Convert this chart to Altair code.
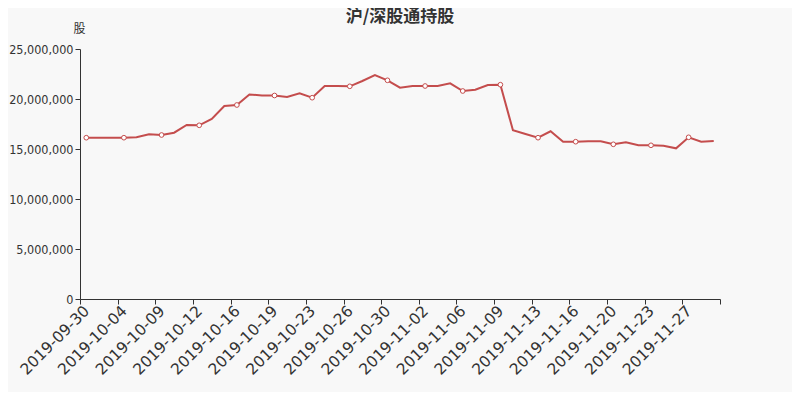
import altair as alt
import pandas as pd

dates = [
    "2019-09-30", "2019-10-02", "2019-10-03", "2019-10-04", "2019-10-05", "2019-10-08",
    "2019-10-09", "2019-10-10", "2019-10-11", "2019-10-12", "2019-10-14", "2019-10-15",
    "2019-10-16", "2019-10-17", "2019-10-18", "2019-10-19", "2019-10-21", "2019-10-22",
    "2019-10-23", "2019-10-24", "2019-10-25", "2019-10-26", "2019-10-28", "2019-10-29",
    "2019-10-30", "2019-10-31", "2019-11-01", "2019-11-02", "2019-11-04", "2019-11-05",
    "2019-11-06", "2019-11-07", "2019-11-08", "2019-11-09", "2019-11-11", "2019-11-12",
    "2019-11-13", "2019-11-14", "2019-11-15", "2019-11-16", "2019-11-18", "2019-11-19",
    "2019-11-20", "2019-11-21", "2019-11-22", "2019-11-23", "2019-11-25", "2019-11-26",
    "2019-11-27", "2019-11-28", "2019-11-29",
]

holdings = [
    16130000, 16130000, 16130000, 16130000, 16170000, 16470000,
    16400000, 16630000, 17400000, 17370000, 18000000, 19300000,
    19400000, 20450000, 20350000, 20350000, 20200000, 20570000,
    20130000, 21300000, 21300000, 21270000, 21800000, 22400000,
    21870000, 21130000, 21300000, 21300000, 21300000, 21570000,
    20800000, 20930000, 21400000, 21430000, 16870000, 16500000,
    16130000, 16770000, 15730000, 15730000, 15770000, 15770000,
    15470000, 15670000, 15370000, 15370000, 15330000, 15070000,
    16170000, 15730000, 15800000,
]

y_ticks = [0, 5000000, 10000000, 15000000, 20000000, 25000000]

n = len(dates)
df = pd.DataFrame({"idx": list(range(n)), "date": dates, "shares": holdings})
df["marker"] = df["idx"] % 3 == 0

x_tick_values = [i - 0.5 for i in range(0, n - 2, 3)] + [n - 0.5]
label_array = "[" + ",".join(f"'{d}'" for d in dates[0:n - 2:3]) + "]"
label_expr = f"{label_array}[round((datum.value + 0.5) / 3)] || ''"

LINE = "#c44d4d"
TXT = "#333333"
FONT = "DejaVu Sans, Noto Sans CJK SC"
YFONT = "DejaVu Sans Condensed, Liberation Sans"

x_enc = alt.X(
    "idx:Q",
    scale=alt.Scale(domain=[-0.5, n - 0.5], nice=False, zero=False),
    axis=alt.Axis(
        values=x_tick_values,
        labelExpr=label_expr,
        labelAngle=-45,
        labelAlign="right",
        labelBaseline="middle",
        labelOffset=6.3,
        labelPadding=4,
        labelFlush=False,
        labelOverlap=False,
        labelFontSize=15.5,
        labelColor=TXT,
        labelFont=FONT,
        title=None,
        grid=False,
        tickSize=5,
        tickColor=TXT,
        domainColor=TXT,
    ),
)

y_enc = alt.Y(
    "shares:Q",
    scale=alt.Scale(domain=[0, 25000000], nice=False),
    axis=alt.Axis(
        values=y_ticks,
        format=",d",
        title="股",
        titleAngle=0,
        titleAlign="center",
        titleBaseline="middle",
        titleX=-1,
        titleY=-21,
        titleFontSize=12,
        titleFontWeight="normal",
        titleColor=TXT,
        titleFont=FONT,
        labelFontSize=12.5,
        labelColor=TXT,
        labelFont=YFONT,
        labelPadding=2,
        labelOverlap=False,
        grid=False,
        tickSize=5,
        tickColor=TXT,
        domainColor=TXT,
    ),
)

base = alt.Chart(df).encode(x=x_enc, y=y_enc)
line = base.mark_line(color=LINE, strokeWidth=2)
points = (
    base.transform_filter("datum.marker")
    .mark_point(shape="circle", filled=True, fill="white", stroke=LINE, strokeWidth=1, size=22, opacity=1)
)

chart = (
    alt.layer(line, points)
    .properties(
        width=640,
        height=250,
        title=alt.Title("沪/深股通持股", fontSize=17, fontWeight="bold", color=TXT, font="Noto Sans CJK SC", anchor="middle", offset=0, dy=4),
        autosize=alt.AutoSizeParams(type="none"),
        padding={"left": 72, "top": 41, "right": 72, "bottom": 93},
    )
    .configure(background="#f8f8f8")
    .configure_axis(labelOverlap=False)
    .configure_view(stroke=None)
)

chart.save("out.html", embed_options={"renderer": "svg", "actions": False})
